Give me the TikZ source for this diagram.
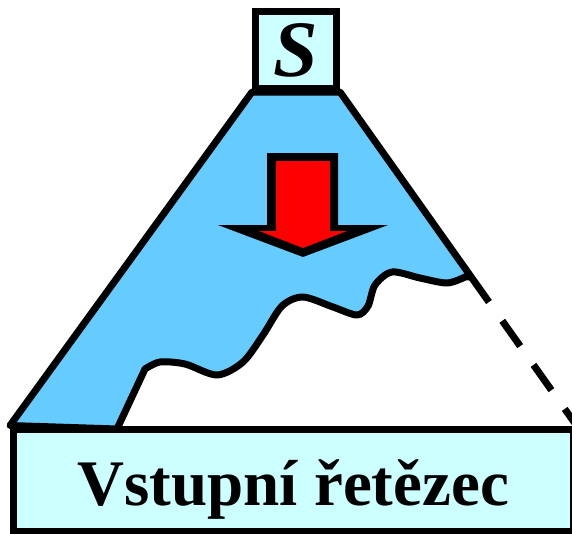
\documentclass[tikz,border=0pt]{standalone}
\usepackage{fontspec}
\setmainfont{Liberation Serif}
\usetikzlibrary{calc, backgrounds}
\definecolor{boxCyan}{HTML}{CCFFFF}
\definecolor{treeBlue}{HTML}{66CCFF}
\definecolor{arrowRed}{HTML}{FF0000}

\begin{document}
\begin{tikzpicture}[x=1pt, y=-1pt, line width=7pt,
    symbox/.style={draw, fill=boxCyan, inner sep=0pt, text depth=0pt}]
    \clip (0,0) rectangle (572,533);
    \node[symbox, minimum width=81pt, minimum height=77pt, text height=52pt, font=\fontsize{80}{80}\selectfont\bfseries\itshape] (S) at (296,50) {S};
    \node[symbox, minimum width=559.5pt, minimum height=102.5pt, text height=49.5pt, font=\fontsize{65}{65}\selectfont\bfseries] (inp) at (293.25,480.25) {Vstupní řetězec};
    \coordinate (wend) at ($(S.south east)!0.554!(inp.north east)$);
    % derivation tree, part already built
    \begin{scope}[on background layer]
      \draw[line width=7pt, fill=treeBlue, line join=round] (S.south west) -- (S.south east) -- (wend)
        -- plot[smooth] coordinates {(465,277) (447,283) (420,278) (392,272) (375,285) (368,306) (357,315) (333,307) (303,297) (282,306) (263,335) (243,362) (217,375) (185,364) (160,362) (145,369)}
        -- (117,429) -- (inp.north west) -- cycle;
    \end{scope}
    \draw[dash pattern=on 31pt off 23pt] (wend) -- (inp.north east);
    % top-down direction
    \fill (267,153) -- (338,153) -- (338,225) -- (388,225) -- (303,257) -- (218,225) -- (267,225) -- cycle;
    \fill[arrowRed] (276,161) -- (330,161) -- (330,231) -- (347,231) -- (303,248) -- (259,231) -- (276,231) -- cycle;
\end{tikzpicture}
\end{document}
